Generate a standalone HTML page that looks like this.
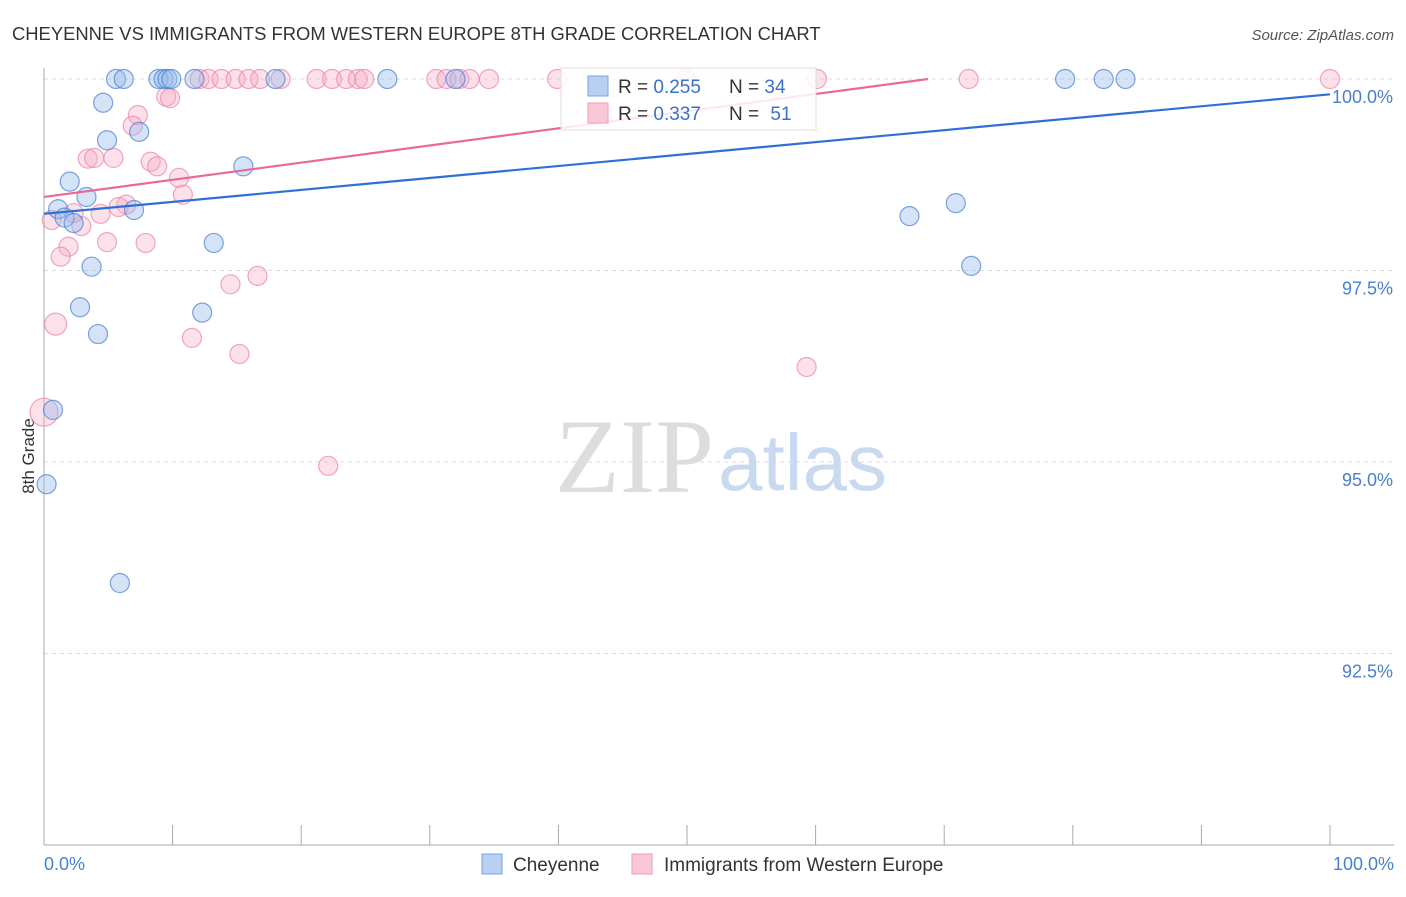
<!DOCTYPE html>
<html><head><meta charset="utf-8"><style>
body{margin:0;background:#fff;font-family:"Liberation Sans",sans-serif;}
</style></head><body>
<svg width="1406" height="892" xmlns="http://www.w3.org/2000/svg" font-family="Liberation Sans, sans-serif">
<text x="12" y="40" font-size="18.4" fill="#333">CHEYENNE VS IMMIGRANTS FROM WESTERN EUROPE 8TH GRADE CORRELATION CHART</text>
<text x="1394" y="40" font-size="15" fill="#555" text-anchor="end" font-style="italic">Source: ZipAtlas.com</text>
<g id="grid"></g>
<text x="714" y="492" font-size="106" text-anchor="end" fill="#ddd" font-family="Liberation Serif, serif">ZIP</text>
<text x="718" y="490" font-size="80" fill="#c9daf0">atlas</text>
<line x1="44" y1="68" x2="44" y2="845" stroke="#aaa"/>
<line x1="44" y1="845" x2="1394" y2="845" stroke="#aaa"/>
<text transform="translate(34,456) rotate(-90)" font-size="17" fill="#333" text-anchor="middle">8th Grade</text>
<text x="44" y="870" font-size="18" fill="#4a7fd0">0.0%</text>
<text x="1394" y="870" font-size="18" fill="#4a7fd0" text-anchor="end">100.0%</text>
<g id="points"></g>
<g id="lines"></g>
<g>
<rect x="561" y="68" width="255" height="62" fill="rgba(255,255,255,0.85)" stroke="#ddd"/>
<rect x="588" y="76" width="20" height="20" fill="#b8d0f2" stroke="#7aa3e0"/>
<text x="618" y="93" font-size="19" fill="#333">R = <tspan fill="#3a6fd0">0.255</tspan></text>
<text x="729" y="93" font-size="19" fill="#333">N = <tspan fill="#3a6fd0">34</tspan></text>
<rect x="588" y="103" width="20" height="20" fill="#f9c8d6" stroke="#ee9bb3"/>
<text x="618" y="120" font-size="19" fill="#333">R = <tspan fill="#3a6fd0">0.337</tspan></text>
<text x="729" y="120" font-size="19" fill="#333">N = <tspan fill="#3a6fd0" dx="6">51</tspan></text>
</g>
<g>
<rect x="482" y="854" width="20" height="20" fill="#b8d0f2" stroke="#7aa3e0"/>
<text x="513" y="871" font-size="19" fill="#333">Cheyenne</text>
<rect x="632" y="854" width="20" height="20" fill="#f9c8d6" stroke="#ee9bb3"/>
<text x="664" y="871" font-size="19" fill="#333">Immigrants from Western Europe</text>
</g>
</svg>
<script>
const blueX=[5.6,6.2,8.9,9.3,9.6,9.9,11.7,18.0,26.7,32.0,79.4,82.4,84.1,4.6,4.9,7.4,2.0,3.3,1.1,1.6,2.3,7.0,15.5,13.2,3.7,2.8,4.2,12.3,0.7,0.2,5.9,67.3,70.9,72.1];
const blueY=[100,100,100,100,100,100,100,100,100,100,100,100,100,99.69,99.20,99.31,98.66,98.46,98.30,98.19,98.12,98.29,98.86,97.86,97.55,97.02,96.67,96.95,95.68,94.71,93.42,98.21,98.38,97.56];
const pinkX=[12.1,12.8,13.8,14.9,15.9,16.8,18.4,21.2,22.4,23.5,24.4,24.9,30.5,31.3,32.3,33.1,34.6,39.9,49.9,60.1,71.9,100,9.5,9.8,7.3,6.9,3.4,3.9,5.4,8.3,8.8,10.5,10.8,6.4,5.8,4.4,2.9,4.9,7.9,1.9,1.3,14.5,16.6,0.9,11.5,15.2,59.3,22.1,0,0.6,2.3];
const pinkY=[100,100,100,100,100,100,100,100,100,100,100,100,100,100,100,100,100,100,100,100,100,100,99.77,99.75,99.53,99.39,98.96,98.97,98.97,98.92,98.86,98.71,98.49,98.36,98.33,98.24,98.08,97.87,97.86,97.81,97.68,97.32,97.43,96.80,96.62,96.41,96.24,94.95,95.65,98.16,98.25];
const blueTrend=[98.24,99.80];
const pinkTrend=[98.46,100.7];
const yTicks=[100,97.5,95,92.5];
const yTickLabels=["100.0%","97.5%","95.0%","92.5%"];
const xTicks=[0,10,20,30,40,50,60,70,80,90,100];
const NS="http://www.w3.org/2000/svg";
const sx=v=>44+v*12.86;
const sy=v=>79+(100-v)*76.6;
function mk(t,a,p){const e=document.createElementNS(NS,t);for(const k in a)e.setAttribute(k,a[k]);p.appendChild(e);return e;}
const grid=document.getElementById('grid');
yTicks.forEach((v,i)=>{
  const l=mk('line',{x1:44,x2:1394,y1:sy(v),y2:sy(v),stroke:'#ddd','stroke-dasharray':'4,4'},grid);
  
  
  const t=mk('text',{x:1393,y:sy(v)+24,'font-size':18,fill:'#4a7fd0','text-anchor':'end'},grid);
  t.textContent=yTickLabels[i];
  
  
});
xTicks.forEach(v=>{
  const l=mk('line',{x1:sx(v),x2:sx(v),y1:825,y2:845,stroke:'#aaa'},grid);
  
  
});
const pts=document.getElementById('points');
pinkX.forEach((x,i)=>{
  const r=(i==48)?14:(i==43?11:9.5);
  const c=mk('circle',{cx:sx(x),cy:sy(pinkY[i]),r:r,fill:'rgba(246,170,195,0.35)',stroke:'rgba(235,130,165,0.7)','stroke-width':1.2},pts);
  
  
});
blueX.forEach((x,i)=>{
  const c=mk('circle',{cx:sx(x),cy:sy(blueY[i]),r:9.5,fill:'rgba(150,185,235,0.4)',stroke:'rgba(70,125,210,0.7)','stroke-width':1.2},pts);
  
  
});
const ln=document.getElementById('lines');
const b=mk('line',{x1:sx(0),y1:sy(blueTrend[0]),x2:sx(100),y2:sy(blueTrend[1]),stroke:'#2f6fd6','stroke-width':2.2},ln);


const tEnd=(100-pinkTrend[0])/(pinkTrend[1]-pinkTrend[0])*100;
const p=mk('line',{x1:sx(0),y1:sy(pinkTrend[0]),x2:sx(Math.min(100,tEnd)),y2:sy(Math.min(100,pinkTrend[1])),stroke:'#e86a95','stroke-width':2.2},ln);


</script>
</body></html>
